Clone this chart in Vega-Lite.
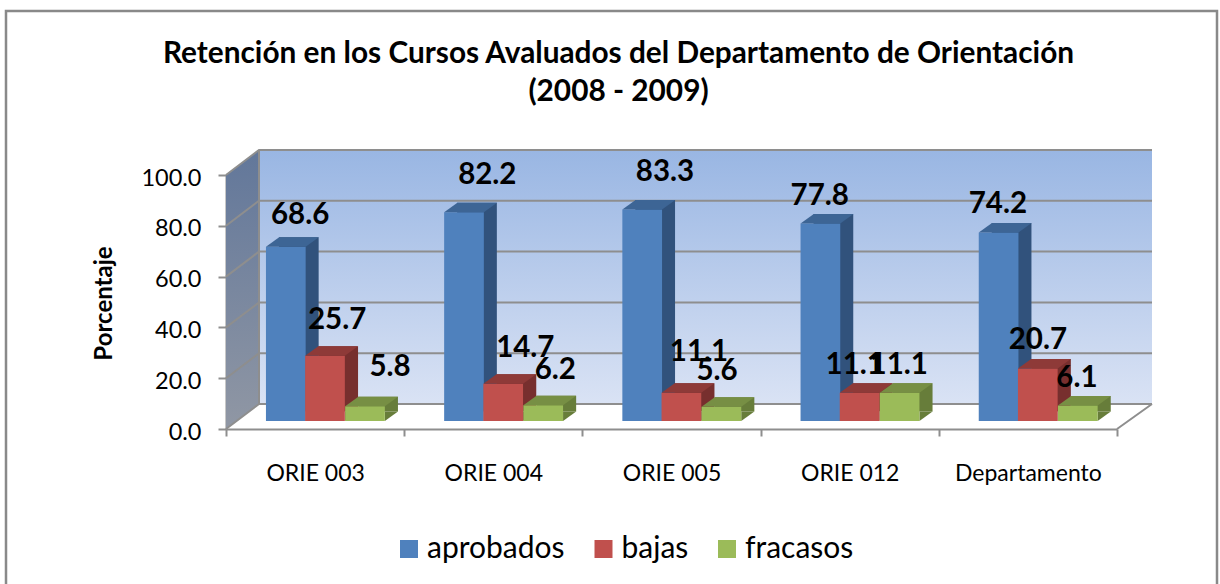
{"$schema":"https://vega.github.io/schema/vega-lite/v6.json","width":891,"height":254,"autosize":{"type":"none"},"padding":{"left":226,"top":175,"right":103,"bottom":155},"background":"white",
"title":{"text":["Retención en los Cursos Avaluados del Departamento de Orientación","(2008 - 2009)"],"frame":"group","anchor":"middle","dx":-53,"dy":105,"font":"Lato","fontWeight":"bold","fontSize":29.8,"lineHeight":38,"color":"#000000"},
"config":{"view":{"stroke":null},"text":{"font":"Lato"}},
"data":{"name":"ret","values":[
{"cat":"ORIE 003","series":"aprobados","value":68.6},{"cat":"ORIE 003","series":"bajas","value":25.7},{"cat":"ORIE 003","series":"fracasos","value":5.8},
{"cat":"ORIE 004","series":"aprobados","value":82.2},{"cat":"ORIE 004","series":"bajas","value":14.7},{"cat":"ORIE 004","series":"fracasos","value":6.2},
{"cat":"ORIE 005","series":"aprobados","value":83.3},{"cat":"ORIE 005","series":"bajas","value":11.1},{"cat":"ORIE 005","series":"fracasos","value":5.6},
{"cat":"ORIE 012","series":"aprobados","value":77.8},{"cat":"ORIE 012","series":"bajas","value":11.1},{"cat":"ORIE 012","series":"fracasos","value":11.1},
{"cat":"Departamento","series":"aprobados","value":74.2},{"cat":"Departamento","series":"bajas","value":20.7},{"cat":"Departamento","series":"fracasos","value":6.1}]},
"encoding":{"x":{"field":"cat","type":"nominal","sort":null,"scale":{"domain":["ORIE 003","ORIE 004","ORIE 005","ORIE 012","Departamento"],"paddingInner":0,"paddingOuter":0},"title":null,"axis":{"tickBand":"extent","labelAngle":0,"labelFont":"Lato","labelFontSize":23,"labelColor":"#000000","labelPadding":26,"labelLimit":300,"tickSize":7,"tickColor":"#8e8e8e","tickWidth":2,"domainColor":"#8e8e8e","domainWidth":2,"grid":false}},"y":{"field":"value","type":"quantitative","stack":null,"scale":{"domain":[0,100],"nice":false},"title":"Porcentaje","axis":{"values":[0,20,40,60,80,100],"format":".1f","labelFont":"Lato","labelFontSize":23.5,"labelColor":"#000000","labelPadding":17,"labelOffset":3,"tickSize":8,"tickColor":"#8e8e8e","tickWidth":2,"domainColor":"#8e8e8e","domainWidth":2,"grid":false,"titleFont":"Lato","titleFontWeight":"bold","titleFontSize":24,"titleColor":"#000000","titleX":-110,"titleY":128}}},
"layer":[
{"data":{"values":[{"tick":0}]},"mark":{"type":"point","filled":true,"opacity":1,"size":400,"shape":"M0,0L3.3,-2.5L92.6,-2.5L92.6,-27.9L3.3,-27.9Z","stroke":null,"fill":{"x1":0,"y1":0,"x2":0,"y2":1,"gradient":"linear","stops":[{"offset":0,"color":"#99b6e3"},{"offset":1,"color":"#e0e7f6"}]}},"encoding":{"x":{"datum":"ORIE 003","bandPosition":0},"y":{"field":"tick","type":"quantitative"}}},
{"data":{"values":[{"tick":0}]},"mark":{"type":"point","filled":true,"opacity":1,"size":400,"shape":"M0,0L3.3,-2.5L3.3,-27.9L0,-25.4Z","stroke":null,"fill":{"x1":0,"y1":0,"x2":0,"y2":1,"gradient":"linear","stops":[{"offset":0,"color":"#62779a"},{"offset":1,"color":"#9097a4"}]}},"encoding":{"x":{"datum":"ORIE 003","bandPosition":0},"y":{"field":"tick","type":"quantitative"}}},
{"data":{"values":[{"tick":0},{"tick":20},{"tick":40},{"tick":60},{"tick":80},{"tick":100}]},"mark":{"type":"point","filled":false,"opacity":1,"size":400,"shape":"M0,0L3.3,-2.5L92.6,-2.5","stroke":"#8e8e8e","strokeWidth":2},"encoding":{"x":{"datum":"ORIE 003","bandPosition":0},"y":{"field":"tick","type":"quantitative"}}},
{"data":{"values":[{"tick":0}]},"mark":{"type":"point","filled":false,"opacity":1,"size":400,"shape":"M3.3,-2.5L3.3,-27.9M89.1,0L92.6,-2.5","stroke":"#8e8e8e","strokeWidth":2},"encoding":{"x":{"datum":"ORIE 003","bandPosition":0},"y":{"field":"tick","type":"quantitative"}}},
{"data":{"values":[{"tick":0}]},"mark":{"type":"point","filled":false,"opacity":1,"size":400,"shape":"M-22,16.1L-22,-41.8L99.1,-41.8L99.1,16.1","stroke":"#898989","strokeWidth":2.5},"encoding":{"x":{"datum":"ORIE 003","bandPosition":0},"y":{"field":"tick","type":"quantitative"}}},

{"transform":[{"filter":"datum.series=='aprobados'"}],"mark":{"type":"bar","width":39.7,"xOffset":-16.3,"x2Offset":-16.3,"yOffset":-17.5,"y2Offset":-17.5,"fill":"#31527c"},"encoding":{"y2":{"datum":0}}},
{"transform":[{"filter":"datum.series=='aprobados'"}],"mark":{"type":"point","filled":true,"opacity":1,"size":400,"xOffset":-29.3,"yOffset":-8,"stroke":null,"fill":"#31527c","shape":"M1.985,0L3.3,-0.95L1.985,-0.95Z"},"encoding":{"y":{"datum":0}}},
{"transform":[{"filter":"datum.series=='aprobados'"}],"mark":{"type":"bar","width":39.7,"xOffset":-29.3,"x2Offset":-29.3,"yOffset":-8,"y2Offset":-8},"encoding":{"y2":{"datum":0},"color":{"field":"series","type":"nominal","scale":{"domain":["aprobados","bajas","fracasos"],"range":["#4f81bd","#c0504d","#9bbb59"]},"legend":{"title":null,"orient":"none","legendX":168,"legendY":359,"direction":"horizontal","columns":3,"symbolType":"square","symbolSize":324,"symbolStrokeWidth":0,"labelFont":"Lato","labelFontSize":30,"labelColor":"#000000","labelLimit":300,"columnPadding":23.5,"labelOffset":3}}}},
{"transform":[{"filter":"datum.series=='aprobados'"}],"mark":{"type":"point","filled":true,"opacity":1,"size":400,"xOffset":-29.3,"yOffset":-8,"stroke":null,"fill":"#3d6595","shape":"M-1.985,0L1.985,0L3.3,-0.95L-0.665,-0.95Z"}},

{"transform":[{"filter":"datum.series=='bajas'"}],"mark":{"type":"bar","width":39.7,"xOffset":23.1,"x2Offset":23.1,"yOffset":-17.5,"y2Offset":-17.5,"fill":"#772f2e"},"encoding":{"y2":{"datum":0}}},
{"transform":[{"filter":"datum.series=='bajas'"}],"mark":{"type":"point","filled":true,"opacity":1,"size":400,"xOffset":9.9,"yOffset":-8,"stroke":null,"fill":"#772f2e","shape":"M1.985,0L3.3,-0.95L1.985,-0.95Z"},"encoding":{"y":{"datum":0}}},
{"transform":[{"filter":"datum.series=='bajas'"}],"mark":{"type":"bar","width":39.7,"xOffset":9.9,"x2Offset":9.9,"yOffset":-8,"y2Offset":-8},"encoding":{"y2":{"datum":0},"color":{"field":"series","type":"nominal","legend":null}}},
{"transform":[{"filter":"datum.series=='bajas'"}],"mark":{"type":"point","filled":true,"opacity":1,"size":400,"xOffset":9.9,"yOffset":-8,"stroke":null,"fill":"#8e3a38","shape":"M-1.985,0L1.985,0L3.3,-0.95L-0.665,-0.95Z"}},

{"transform":[{"filter":"datum.series=='fracasos'"}],"mark":{"type":"bar","width":39.7,"xOffset":63,"x2Offset":63,"yOffset":-17.5,"y2Offset":-17.5,"fill":"#677d3a"},"encoding":{"y2":{"datum":0}}},
{"transform":[{"filter":"datum.series=='fracasos'"}],"mark":{"type":"point","filled":true,"opacity":1,"size":400,"xOffset":49.9,"yOffset":-8,"stroke":null,"fill":"#677d3a","shape":"M1.985,0L3.3,-0.95L1.985,-0.95Z"},"encoding":{"y":{"datum":0}}},
{"transform":[{"filter":"datum.series=='fracasos'"}],"mark":{"type":"bar","width":39.7,"xOffset":49.9,"x2Offset":49.9,"yOffset":-8,"y2Offset":-8},"encoding":{"y2":{"datum":0},"color":{"field":"series","type":"nominal","legend":null}}},
{"transform":[{"filter":"datum.series=='fracasos'"}],"mark":{"type":"point","filled":true,"opacity":1,"size":400,"xOffset":49.9,"yOffset":-8,"stroke":null,"fill":"#778f44","shape":"M-1.985,0L1.985,0L3.3,-0.95L-0.665,-0.95Z"}},

{"transform":[{"filter":"datum.series=='aprobados'&&datum.cat=='ORIE 003'"}],"mark":{"type":"text","font":"Lato","fontWeight":"bold","fontSize":29.5,"color":"#000000","baseline":"middle","dx":-15,"dy":-40},"encoding":{"text":{"field":"value","format":".1f"}}},
{"transform":[{"filter":"datum.series=='aprobados'&&datum.cat=='ORIE 004'"}],"mark":{"type":"text","font":"Lato","fontWeight":"bold","fontSize":29.5,"color":"#000000","baseline":"middle","dx":-6,"dy":-45},"encoding":{"text":{"field":"value","format":".1f"}}},
{"transform":[{"filter":"datum.series=='aprobados'&&datum.cat=='ORIE 005'"}],"mark":{"type":"text","font":"Lato","fontWeight":"bold","fontSize":29.5,"color":"#000000","baseline":"middle","dx":-6.5,"dy":-45},"encoding":{"text":{"field":"value","format":".1f"}}},
{"transform":[{"filter":"datum.series=='aprobados'&&datum.cat=='ORIE 012'"}],"mark":{"type":"text","font":"Lato","fontWeight":"bold","fontSize":29.5,"color":"#000000","baseline":"middle","dx":-30,"dy":-35},"encoding":{"text":{"field":"value","format":".1f"}}},
{"transform":[{"filter":"datum.series=='aprobados'&&datum.cat=='Departamento'"}],"mark":{"type":"text","font":"Lato","fontWeight":"bold","fontSize":29.5,"color":"#000000","baseline":"middle","dx":-30,"dy":-36.5},"encoding":{"text":{"field":"value","format":".1f"}}},
{"transform":[{"filter":"datum.series=='bajas'&&datum.cat=='ORIE 003'"}],"mark":{"type":"text","font":"Lato","fontWeight":"bold","fontSize":29.5,"color":"#000000","baseline":"middle","dx":22,"dy":-44},"encoding":{"text":{"field":"value","format":".1f"}}},
{"transform":[{"filter":"datum.series=='bajas'&&datum.cat=='ORIE 004'"}],"mark":{"type":"text","font":"Lato","fontWeight":"bold","fontSize":29.5,"color":"#000000","baseline":"middle","dx":32,"dy":-44},"encoding":{"text":{"field":"value","format":".1f"}}},
{"transform":[{"filter":"datum.series=='bajas'&&datum.cat=='ORIE 005'"}],"mark":{"type":"text","font":"Lato","fontWeight":"bold","fontSize":29.5,"color":"#000000","baseline":"middle","dx":27.5,"dy":-49},"encoding":{"text":{"field":"value","format":".1f"}}},
{"transform":[{"filter":"datum.series=='bajas'&&datum.cat=='ORIE 012'"}],"mark":{"type":"text","font":"Lato","fontWeight":"bold","fontSize":29.5,"color":"#000000","baseline":"middle","dx":5,"dy":-36},"encoding":{"text":{"field":"value","format":".1f"}}},
{"transform":[{"filter":"datum.series=='bajas'&&datum.cat=='Departamento'"}],"mark":{"type":"text","font":"Lato","fontWeight":"bold","fontSize":29.5,"color":"#000000","baseline":"middle","dx":10,"dy":-36},"encoding":{"text":{"field":"value","format":".1f"}}},
{"transform":[{"filter":"datum.series=='fracasos'&&datum.cat=='ORIE 003'"}],"mark":{"type":"text","font":"Lato","fontWeight":"bold","fontSize":29.5,"color":"#000000","baseline":"middle","dx":75,"dy":-47},"encoding":{"text":{"field":"value","format":".1f"}}},
{"transform":[{"filter":"datum.series=='fracasos'&&datum.cat=='ORIE 004'"}],"mark":{"type":"text","font":"Lato","fontWeight":"bold","fontSize":29.5,"color":"#000000","baseline":"middle","dx":62,"dy":-43},"encoding":{"text":{"field":"value","format":".1f"}}},
{"transform":[{"filter":"datum.series=='fracasos'&&datum.cat=='ORIE 005'"}],"mark":{"type":"text","font":"Lato","fontWeight":"bold","fontSize":29.5,"color":"#000000","baseline":"middle","dx":45.5,"dy":-44},"encoding":{"text":{"field":"value","format":".1f"}}},
{"transform":[{"filter":"datum.series=='fracasos'&&datum.cat=='ORIE 012'"}],"mark":{"type":"text","font":"Lato","fontWeight":"bold","fontSize":29.5,"color":"#000000","baseline":"middle","dx":49,"dy":-36},"encoding":{"text":{"field":"value","format":".1f"}}},
{"transform":[{"filter":"datum.series=='fracasos'&&datum.cat=='Departamento'"}],"mark":{"type":"text","font":"Lato","fontWeight":"bold","fontSize":29.5,"color":"#000000","baseline":"middle","dx":49,"dy":-35.5},"encoding":{"text":{"field":"value","format":".1f"}}}
]}
